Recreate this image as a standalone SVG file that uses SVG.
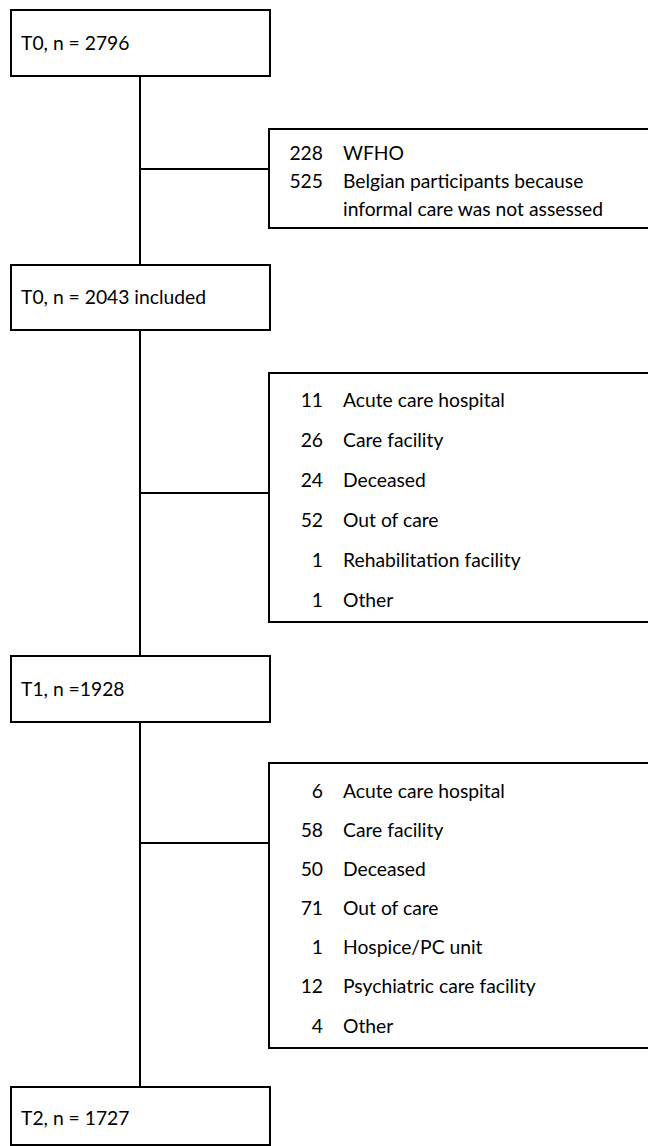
<svg xmlns="http://www.w3.org/2000/svg" width="648" height="1146" viewBox="0 0 648 1146">
<style>
.box{fill:#fff;stroke:#000;stroke-width:2}
.ln{stroke:#000;stroke-width:2;fill:none}
text{font-family:Lato,"Liberation Sans",sans-serif;font-size:19.3px;fill:#000}
.num{text-anchor:end}
</style>
<rect width="648" height="1146" fill="#fff"/>
<g id="connectors">
<line class="ln" x1="140" y1="76" x2="140" y2="265"/>
<line class="ln" x1="140" y1="169" x2="269" y2="169"/>
<line class="ln" x1="140" y1="330" x2="140" y2="656"/>
<line class="ln" x1="140" y1="493" x2="269" y2="493"/>
<line class="ln" x1="140" y1="722" x2="140" y2="1087"/>
<line class="ln" x1="140" y1="843" x2="269" y2="843"/>
</g>
<g id="t0">
<rect class="box" x="11" y="10" width="259" height="66"/>
<text x="21" y="50">T0, n = 2796</text>
</g>
<g id="excl1">
<rect class="box" x="269" y="129" width="400" height="99"/>
<text class="num" x="323" y="160">228</text><text x="343" y="160">WFHO</text>
<text class="num" x="323" y="188">525</text><text x="343" y="188">Belgian participants because</text>
<text x="343" y="216">informal care was not assessed</text>
</g>
<g id="t0incl">
<rect class="box" x="11" y="265" width="259" height="65"/>
<text x="21" y="304">T0, n = 2043 included</text>
</g>
<g id="excl2">
<rect class="box" x="269" y="373" width="400" height="249"/>
<text class="num" x="323" y="407">11</text><text x="343" y="407">Acute care hospital</text>
<text class="num" x="323" y="447">26</text><text x="343" y="447">Care facility</text>
<text class="num" x="323" y="487">24</text><text x="343" y="487">Deceased</text>
<text class="num" x="323" y="527">52</text><text x="343" y="527">Out of care</text>
<text class="num" x="323" y="567">1</text><text x="343" y="567">Rehabilitation facility</text>
<text class="num" x="323" y="607">1</text><text x="343" y="607">Other</text>
</g>
<g id="t1">
<rect class="box" x="11" y="656" width="259" height="66"/>
<text x="21" y="696">T1, n =1928</text>
</g>
<g id="excl3">
<rect class="box" x="269" y="763" width="400" height="285"/>
<text class="num" x="323" y="798">6</text><text x="343" y="798">Acute care hospital</text>
<text class="num" x="323" y="837">58</text><text x="343" y="837">Care facility</text>
<text class="num" x="323" y="876">50</text><text x="343" y="876">Deceased</text>
<text class="num" x="323" y="915">71</text><text x="343" y="915">Out of care</text>
<text class="num" x="323" y="954">1</text><text x="343" y="954">Hospice/PC unit</text>
<text class="num" x="323" y="993">12</text><text x="343" y="993">Psychiatric care facility</text>
<text class="num" x="323" y="1033">4</text><text x="343" y="1033">Other</text>
</g>
<g id="t2">
<rect class="box" x="11" y="1087" width="259" height="58"/>
<text x="21" y="1125">T2, n = 1727</text>
</g>
</svg>
